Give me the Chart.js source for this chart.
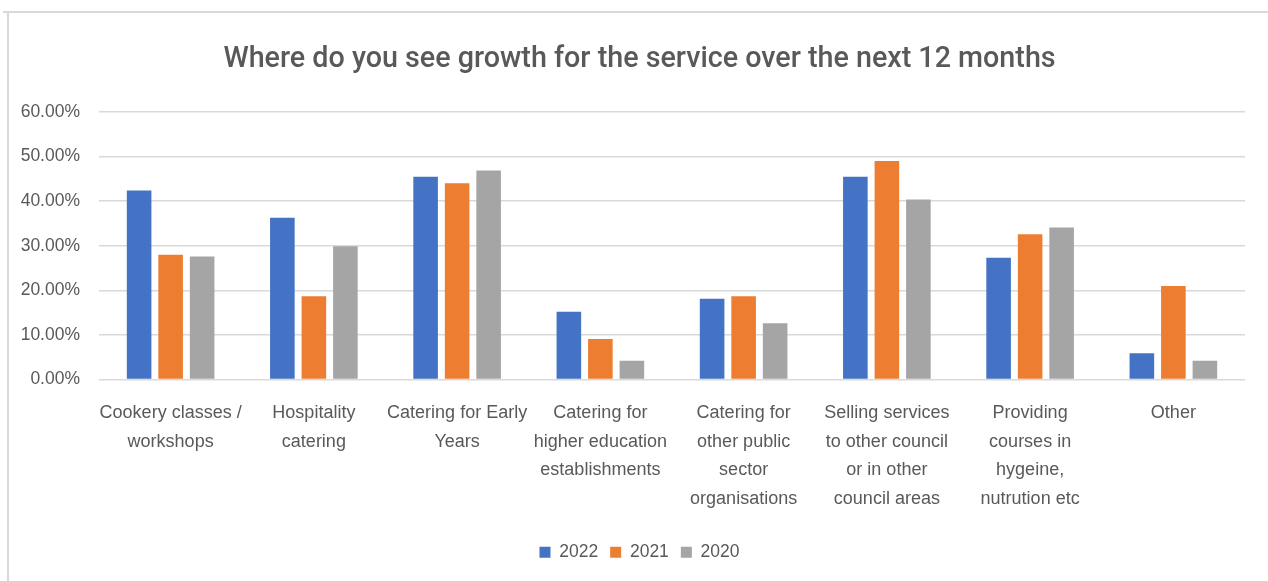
<!DOCTYPE html>
<html>
<head>
<meta charset="utf-8">
<script src="https://cdn.jsdelivr.net/npm/chart.js@4/dist/chart.umd.min.js"></script>
<style>
  html, body { margin: 0; padding: 0; background: #fff; }
  #wrap { position: relative; width: 1268px; height: 581px; overflow: hidden; }
  #frame-top { position: absolute; left: 3px; top: 11px; width: 1265px; height: 2px; background: #d9d9d9; }
  #frame-left { position: absolute; left: 7px; top: 11px; width: 2px; height: 580px; background: #d9d9d9; }
  canvas { position: absolute; left: 0; top: 0; }
</style>
</head>
<body>
<div id="wrap">
  <div id="frame-top"></div>
  <div id="frame-left"></div>
  <canvas id="chart" width="1268" height="581"></canvas>
</div>
<script>
const categories = [
  ["Cookery classes /", "workshops"],
  ["Hospitality", "catering"],
  ["Catering for Early", "Years"],
  ["Catering for", "higher education", "establishments"],
  ["Catering for", "other public", "sector", "organisations"],
  ["Selling services", "to other council", "or in other", "council areas"],
  ["Providing", "courses in", "hygeine,", "nutrution etc"],
  ["Other"]
];
const years = ["2022", "2021", "2020"];
const values2022 = [0.424, 0.363, 0.455, 0.152, 0.181, 0.455, 0.273, 0.059];
const values2021 = [0.280, 0.187, 0.440, 0.091, 0.187, 0.490, 0.326, 0.210];
const values2020 = [0.276, 0.299, 0.469, 0.042, 0.126, 0.404, 0.341, 0.042];
const yTicks = [0, 0.1, 0.2, 0.3, 0.4, 0.5, 0.6];

const FONT = "'Liberation Sans', Arial, sans-serif";
const TITLE_FONT = "Roboto, 'Liberation Sans', sans-serif";
const TEXT = "#595959";

new Chart(document.getElementById("chart"), {
  type: "bar",
  data: {
    labels: categories,
    datasets: [
      { label: years[0], data: values2022, backgroundColor: "#4472C4" },
      { label: years[1], data: values2021, backgroundColor: "#ED7D31" },
      { label: years[2], data: values2020, backgroundColor: "#A5A5A5" }
    ]
  },
  options: {
    responsive: false,
    animation: false,
    devicePixelRatio: 1,
    layout: { padding: { left: 34, right: 23, top: 0, bottom: 10 } },
    datasets: { bar: { categoryPercentage: 0.66, barPercentage: 0.78 } },
    plugins: {
      title: {
        display: true,
        text: "Where do you see growth for the service over the next 12 months",
        color: TEXT,
        font: { family: TITLE_FONT, size: 28.7, weight: 500, lineHeight: 1.2 },
        padding: { top: 43, bottom: 34.6 }
      },
      legend: {
        position: "bottom",
        labels: {
          color: TEXT,
          font: { family: FONT, size: 17.5 },
          boxWidth: 11, boxHeight: 11,
          padding: 12
        }
      },
      tooltip: { enabled: false }
    },
    scales: {
      x: {
        grid: { display: false, drawTicks: false },
        border: { display: false },
        ticks: {
          color: TEXT, autoSkip: false, maxRotation: 0, minRotation: 0,
          padding: 19,
          font: { family: FONT, size: 18, lineHeight: 1.6 }
        },
        afterFit(scale) { scale.height = 152; }
      },
      y: {
        min: 0, max: 0.6,
        afterBuildTicks(scale) { scale.ticks = yTicks.map(v => ({ value: v })); },
        grid: { color: "#d9d9d9", lineWidth: 1.5, drawTicks: false },
        border: { display: false },
        ticks: {
          color: TEXT, padding: 19,
          font: { family: FONT, size: 17.5 },
          callback: v => (v * 100).toFixed(2) + "%"
        },
        afterFit(scale) {
          scale.width = 65;
          // tick labels extend into the left padding, so don't clip them to the axis box
          scale._computeLabelArea = () => undefined;
        }
      }
    }
  }
});
</script>
</body>
</html>
